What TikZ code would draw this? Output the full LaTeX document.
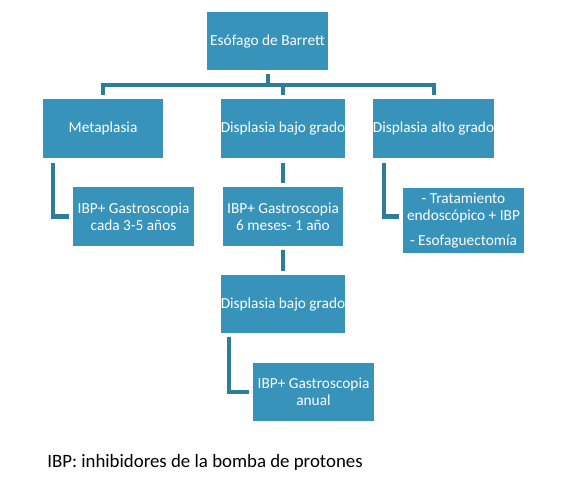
\documentclass[tikz,border=0pt]{standalone}
\usepackage{fontspec}
\setmainfont{Carlito}
\usetikzlibrary{positioning}
\definecolor{boxblue}{RGB}{55,147,186}
\definecolor{lineblue}{RGB}{46,125,152}
\tikzset{
  caja/.style={minimum width=3cm, minimum height=1.45cm, inner sep=0pt,
    fill=boxblue, text=white, align=center, font=\fontsize{10.9}{12.2}\selectfont},
  enlace/.style={draw=lineblue, line width=2.85pt}
}

\begin{document}
\begin{tikzpicture}[x=0.025cm,y=-0.025cm]
  \useasboundingbox (0,0) rectangle (564,492);

  % cajas
  \node[caja] (barrett) at (267.5,41) {Esófago de Barrett};
  \node[caja] (meta) at (103,128.5) {Metaplasia};
  \node[caja] (bajo) at (283,128.5) {Displasia bajo grado};
  \node[caja] (alto) at (433.5,128.5) {Displasia alto grado};
  \node[caja] (ibpmeta) at (133.5,216.5) {IBP+ Gastroscopia\\cada 3-5 años};
  \node[caja] (ibpbajo) at (283,216.5) {IBP+ Gastroscopia\\6 meses- 1 año};
  \node[caja, minimum height=1.625cm] (trat) at (463.5,220.5)
    {- Tratamiento\\endoscópico + IBP\\[5.5pt]- Esofaguectomía};
  \node[caja] (bajodos) at (283,304) {Displasia bajo grado};
  \node[caja] (anual) at (313.5,392) {IBP+ Gastroscopia\\anual};

  \node[anchor=west, inner sep=0pt, font=\fontsize{13.4}{15}\selectfont] (nota) at (47,462)
    {IBP: inhibidores de la bomba de protones};

  % enlaces
  \draw[enlace] ([yshift=-0.1cm]barrett.south) -- ++(0,11) coordinate (rama);
  \draw[enlace] ([yshift=0.1cm]meta.north) |- (rama) -| ([yshift=0.1cm]alto.north);
  \draw[enlace] (bajo.north |- rama) -- ([yshift=0.1cm]bajo.north);

  \draw[enlace] ([xshift=0.25cm,yshift=-0.125cm]meta.south west) |- ([xshift=-0.1cm]ibpmeta.west);
  \draw[enlace] ([yshift=-0.125cm]bajo.south) -- ([yshift=0.1cm]ibpbajo.north);
  \draw[enlace] ([xshift=0.275cm,yshift=-0.125cm]alto.south west) |- ([xshift=-0.1cm,yshift=0.1cm]trat.west);

  \draw[enlace] ([yshift=-0.1cm]ibpbajo.south) -- ([yshift=0.1cm]bajodos.north);
  \draw[enlace] ([xshift=0.225cm,yshift=-0.1cm]bajodos.south west) |- ([xshift=-0.1cm]anual.west);
\end{tikzpicture}
\end{document}
